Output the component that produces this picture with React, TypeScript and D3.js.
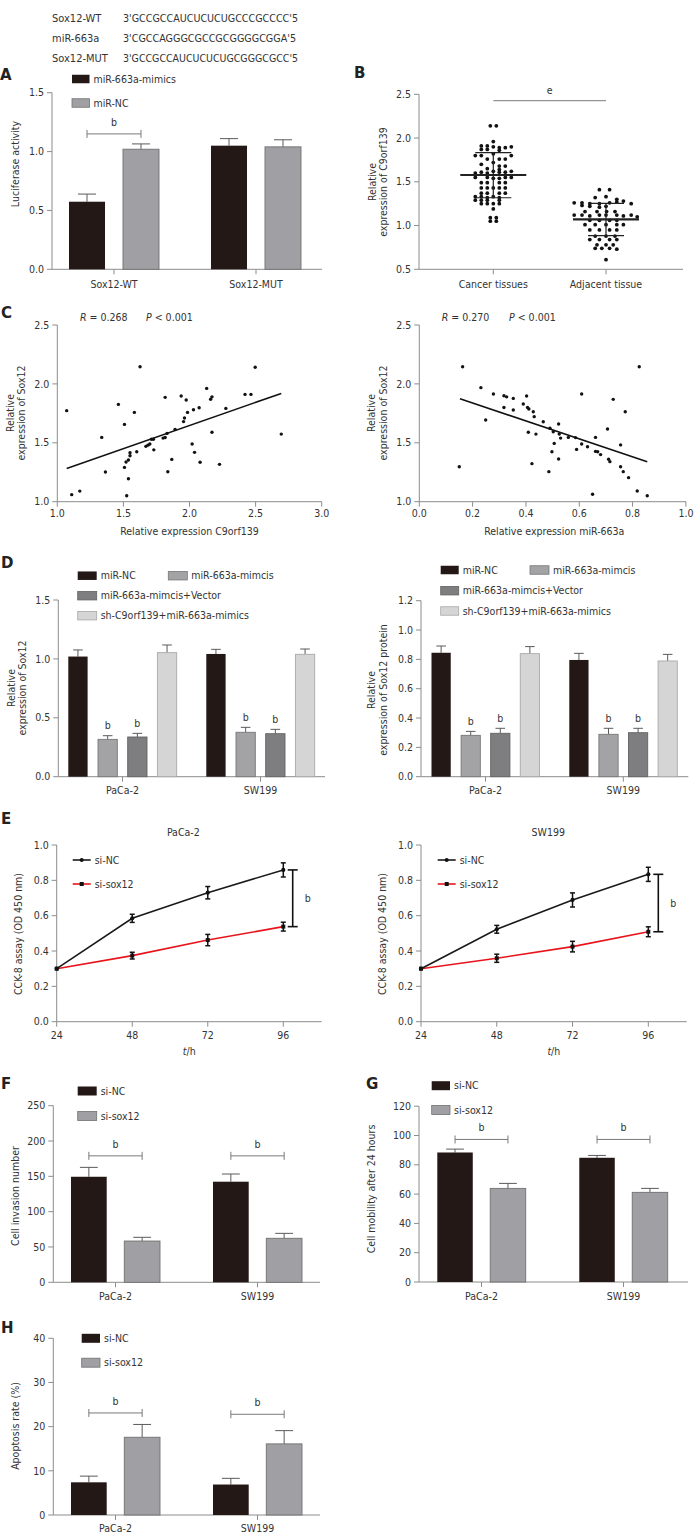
import React from "react";
import * as d3 from "d3";

const FONT = "'DejaVu Sans Condensed', 'DejaVu Sans', sans-serif";
const TXT = "#333333";
const AXC = "#8c8c8c";
const FS = 10.5;
const BLACK = "#231815";
const GRAY = "#a0a0a4";

// ---------- sequences ----------
const seqNames = ["Sox12-WT", "miR-663a", "Sox12-MUT"];
const seqTexts = ["3'GCCGCCAUCUCUCUGCCCGCCCC'5", "3'CGCCAGGGCGCCGCGGGGCGGA'5", "3'GCCGCCAUCUCUCUGCGGGCGCC'5"];

// ---------- A ----------
const aGroups = ["Sox12-WT", "Sox12-MUT"];
const aSeries = ["miR-663a-mimics", "miR-NC"];
const aMeans = [[0.574, 1.02], [1.05, 1.04]];
const aErrs = [[0.065, 0.045], [0.06, 0.06]];
const aTicks = [0, 0.5, 1.0, 1.5];
const aSig = [1.15];

// ---------- B ----------
const bCats = ["Cancer tissues", "Adjacent tissue"];
const bTicks = [0.5, 1.0, 1.5, 2.0, 2.5];
const cancerSlot = [-0.5, 0.5, 0, -2, -1, 0, 1, 2, 3, -2, -1, 1, -3, -2, 3, 0, -1, 1, 2, -2, 0, 1, 2, -1, 1, 0, -3, -2, -1, 1, 2, 3, -3, -1, 0, 1, 2, 3, -2, -1, 1, 2, -2, -1, 0, 1, 2, -2, -1, 1, 2, -3, -2, -1, 0, 1, -3, -2, -1, 1, -2, -1, 0, 1, 0, -0.5, 0.5, -0.5, 0.5];
const cancerVal = [2.14, 2.14, 1.96, 1.91, 1.91, 1.90, 1.89, 1.89, 1.90, 1.87, 1.87, 1.86, 1.80, 1.80, 1.80, 1.82, 1.76, 1.76, 1.76, 1.70, 1.72, 1.68, 1.68, 1.65, 1.64, 1.62, 1.60, 1.61, 1.60, 1.61, 1.61, 1.62, 1.55, 1.55, 1.54, 1.54, 1.55, 1.55, 1.49, 1.49, 1.49, 1.49, 1.43, 1.43, 1.43, 1.43, 1.43, 1.37, 1.37, 1.37, 1.37, 1.33, 1.33, 1.32, 1.33, 1.32, 1.29, 1.29, 1.29, 1.29, 1.25, 1.25, 1.25, 1.25, 1.19, 1.09, 1.09, 1.05, 1.05];
const adjSlot = [-1.1, 0.6, -1.8, 0, 1.8, -5.3, -4, -2.7, -1.1, 0.6, 1.8, 2.9, 4.2, -4, -2.7, -1.1, 0, -3.5, -1.5, 0.1, 1.5, -5.3, -4, -2.7, -1.1, 0, 1.8, 2.9, 4.2, 5.2, -2.7, -1.1, 0.6, 1.8, -3.5, -1.8, 0, 1.8, 2.9, -2.7, -1.1, 0.6, 1.8, -1.8, 0, 1.5, -2.7, -1.1, 0.6, 1.8, -1.5, 0, 1.2, -1.8, -0.7, 0.6, 1.8, 0];
const adjVal = [1.41, 1.41, 1.32, 1.33, 1.30, 1.26, 1.26, 1.25, 1.25, 1.26, 1.27, 1.28, 1.25, 1.23, 1.22, 1.21, 1.22, 1.16, 1.16, 1.16, 1.16, 1.12, 1.12, 1.11, 1.12, 1.12, 1.12, 1.11, 1.12, 1.10, 1.06, 1.06, 1.06, 1.06, 1.01, 1.01, 1.01, 1.01, 1.01, 0.95, 0.95, 0.95, 0.95, 0.88, 0.88, 0.88, 0.84, 0.84, 0.84, 0.84, 0.78, 0.78, 0.78, 0.74, 0.74, 0.74, 0.73, 0.61];
const bMean = [1.578, 1.07];
const bSdHi = [1.833, 1.254];
const bSdLo = [1.318, 0.884];
const bSigLevel = 2.427;

// ---------- C ----------
const cYTicks = [1.0, 1.5, 2.0, 2.5];
const cLXTicks = [1.0, 1.5, 2.0, 2.5, 3.0];
const cRXTicks = [0.0, 0.2, 0.4, 0.6, 0.8, 1.0];
const cLx = [1.071, 1.336, 1.364, 1.462, 1.508, 1.508, 1.52, 1.538, 1.55, 1.55, 1.538, 1.583, 1.601, 1.626, 1.67, 1.685, 1.70, 1.712, 1.727, 1.73, 1.80, 1.816, 1.83, 1.816, 1.836, 1.866, 1.891, 1.937, 1.955, 1.962, 1.975, 1.985, 2.02, 2.03, 2.038, 2.073, 2.08, 2.13, 2.16, 2.17, 2.17, 2.227, 2.275, 2.42, 2.465, 2.497, 2.694, 1.109, 1.17, 1.525];
const cLy = [1.773, 1.546, 1.252, 1.826, 1.656, 1.291, 1.337, 1.354, 1.39, 1.416, 1.195, 1.758, 1.424, 2.146, 1.47, 1.48, 1.49, 1.53, 1.53, 1.44, 1.54, 1.545, 1.58, 1.886, 1.254, 1.359, 1.614, 1.897, 1.68, 1.71, 1.863, 1.758, 1.49, 1.78, 1.419, 1.798, 1.335, 1.962, 1.87, 1.89, 1.589, 1.317, 1.792, 1.911, 1.911, 2.141, 1.574, 1.06, 1.09, 1.05];
const cLfit = { slope: 0.392, intercept: 0.863, from: 1.071, to: 2.694 };
const cRx = [0.15, 0.1625, 0.231, 0.249, 0.278, 0.3175, 0.3275, 0.3175, 0.3525, 0.3525, 0.39, 0.4025, 0.406, 0.411, 0.409, 0.4225, 0.4275, 0.431, 0.4375, 0.465, 0.486, 0.49, 0.4975, 0.5025, 0.506, 0.5225, 0.5225, 0.525, 0.53, 0.559, 0.586, 0.59, 0.609, 0.609, 0.631, 0.661, 0.661, 0.669, 0.68, 0.706, 0.71, 0.715, 0.7275, 0.755, 0.755, 0.765, 0.7725, 0.785, 0.825, 0.65, 0.8175, 0.855];
const cRy = [1.297, 2.146, 1.968, 1.693, 1.914, 1.90, 1.89, 1.80, 1.877, 1.778, 1.829, 1.897, 1.80, 1.787, 1.589, 1.323, 1.764, 1.722, 1.574, 1.679, 1.255, 1.623, 1.424, 1.594, 1.495, 1.659, 1.362, 1.574, 1.54, 1.546, 1.544, 1.444, 1.914, 1.49, 1.467, 1.546, 1.427, 1.424, 1.40, 1.617, 1.36, 1.34, 1.869, 1.482, 1.297, 1.255, 1.764, 1.204, 2.146, 1.063, 1.091, 1.05];
const cRfit = { slope: -0.762, intercept: 1.99, from: 0.1525, to: 0.855 };

// ---------- D ----------
const dGroups = ["PaCa-2", "SW199"];
const dSeries = ["miR-NC", "miR-663a-mimcis", "miR-663a-mimcis+Vector", "sh-C9orf139+miR-663a-mimics"];
const dColors = [BLACK, "#a3a3a6", "#7e7e81", "#d5d5d5"];
const dStrokes = ["none", "#777777", "#626264", "#a9a9a9"];
const dLMeans = [[1.02, 0.317, 0.337, 1.053], [1.042, 0.377, 0.365, 1.039]];
const dLErrs = [[0.056, 0.031, 0.031, 0.065], [0.039, 0.042, 0.037, 0.045]];
const dRMeans = [[0.845, 0.282, 0.296, 0.839], [0.796, 0.289, 0.30, 0.789]];
const dRErrs = [[0.046, 0.027, 0.034, 0.048], [0.045, 0.041, 0.03, 0.045]];
const dLTicks = [0, 0.5, 1.0, 1.5];
const dRTicks = [0, 0.2, 0.4, 0.6, 0.8, 1.0, 1.2];

// ---------- E ----------
const eTimes = [24, 48, 72, 96];
const eYTicks = [0, 0.2, 0.4, 0.6, 0.8, 1.0];
const ePacaNC = [0.30, 0.585, 0.73, 0.859];
const ePacaNCerr = [0, 0.023, 0.035, 0.04];
const ePacaSi = [0.30, 0.374, 0.462, 0.538];
const ePacaSiErr = [0, 0.019, 0.032, 0.025];
const eSwNC = [0.30, 0.523, 0.689, 0.834];
const eSwNCerr = [0, 0.022, 0.04, 0.04];
const eSwSi = [0.30, 0.359, 0.425, 0.509];
const eSwSiErr = [0, 0.023, 0.03, 0.028];

// ---------- F G H ----------
const siSeries = ["si-NC", "si-sox12"];
const fMeans = [[149.4, 58.4], [142.4, 62.3]];
const fErrs = [[13.3, 5.3], [10.9, 7.0]];
const fTicks = [0, 50, 100, 150, 200, 250];
const fSig = [179, 179];
const gMeans = [[88.4, 63.9], [84.8, 61.2]];
const gErrs = [[2.3, 3.4], [1.6, 2.7]];
const gTicks = [0, 20, 40, 60, 80, 100, 120];
const gSig = [97.3, 97.3];
const hMeans = [[7.4, 17.6], [6.9, 16.1]];
const hErrs = [[1.4, 2.9], [1.4, 3.0]];
const hTicks = [0, 10, 20, 30, 40];
const hSig = [23.1, 22.8];

const f1 = d3.format(".1f");
const f0 = d3.format("d");

type Lin = d3.ScaleLinear<number, number>;

function YAxis({ x, y, ticks, fmt }: { x: number; y: Lin; ticks: number[]; fmt: (v: number) => string }) {
  return (
    <g>
      <line x1={x} x2={x} y1={y(ticks[0])} y2={y(ticks[ticks.length - 1])} stroke={AXC} strokeWidth={1} />
      {ticks.map((t) => (
        <g key={t}>
          <line x1={x - 5} x2={x} y1={y(t)} y2={y(t)} stroke={AXC} />
          <text x={x - 8} y={y(t)} dy="0.35em" textAnchor="end" fontSize={FS} fill={TXT}>
            {fmt(t)}
          </text>
        </g>
      ))}
    </g>
  );
}

function XAxisLin({ y0, x, ticks, fmt, x0, x1, labelY }: { y0: number; x: Lin; ticks: number[]; fmt: (v: number) => string; x0: number; x1: number; labelY: number }) {
  return (
    <g>
      <line x1={x0} x2={x1} y1={y0} y2={y0} stroke={AXC} />
      {ticks.map((t) => (
        <g key={t}>
          <line x1={x(t)} x2={x(t)} y1={y0} y2={y0 + 5} stroke={AXC} />
          <text x={x(t)} y={labelY} dy="0.35em" textAnchor="middle" fontSize={FS} fill={TXT}>
            {fmt(t)}
          </text>
        </g>
      ))}
    </g>
  );
}

function XAxisCat({ y0, cats, xg, x0, x1, labelY }: { y0: number; cats: string[]; xg: d3.ScalePoint<string>; x0: number; x1: number; labelY: number }) {
  return (
    <g>
      <line x1={x0} x2={x1} y1={y0} y2={y0} stroke={AXC} />
      {cats.map((c) => (
        <g key={c}>
          <line x1={xg(c)!} x2={xg(c)!} y1={y0} y2={y0 + 5} stroke={AXC} />
          <text x={xg(c)!} y={labelY} dy="0.35em" textAnchor="middle" fontSize={FS} fill={TXT}>
            {c}
          </text>
        </g>
      ))}
    </g>
  );
}

function YLabel({ x, y, lines, gap = 11.5, fs = FS }: { x: number; y: number; lines: string[]; gap?: number; fs?: number }) {
  return (
    <g>
      {lines.map((l, i) => (
        <text key={i} transform={`translate(${x + i * gap},${y}) rotate(-90)`} dy="0.35em" textAnchor="middle" fontSize={fs} fill={TXT}>
          {l}
        </text>
      ))}
    </g>
  );
}

function Letter({ x, y, t }: { x: number; y: number; t: string }) {
  return (
    <text x={x} y={y} fontSize={15} fontWeight="bold" fontFamily="'DejaVu Sans', sans-serif" fill="#222">
      {t}
    </text>
  );
}

function LegendBox({ x, y, w = 19, h = 8.5, fill, stroke, label }: { x: number; y: number; w?: number; h?: number; fill: string; stroke: string; label: string }) {
  return (
    <g>
      <rect x={x} y={y - h / 2} width={w} height={h} fill={fill} stroke={stroke} strokeWidth={stroke === "none" ? 0 : 0.8} />
      <text x={x + w + 4} y={y} dy="0.35em" fontSize={FS} fill={TXT}>
        {label}
      </text>
    </g>
  );
}

function Bracket({ x1, x2, y, label }: { x1: number; x2: number; y: number; label: string }) {
  return (
    <g stroke="#7a7a7a" strokeWidth={1}>
      <line x1={x1} x2={x2} y1={y} y2={y} />
      <line x1={x1} x2={x1} y1={y - 4} y2={y + 4} />
      <line x1={x2} x2={x2} y1={y - 4} y2={y + 4} />
      <text x={(x1 + x2) / 2} y={y - 12} dy="0.35em" textAnchor="middle" fontSize={FS} fill={TXT} stroke="none">
        {label}
      </text>
    </g>
  );
}

type BarProps = {
  groups: string[];
  series: string[];
  colors: string[];
  strokes: string[];
  means: number[][];
  errs: number[][];
  centers: [number, number];
  innerW: number;
  pad: number;
  y: Lin;
  sig?: number[];
  bMarks?: number[];
};

function Bars({ groups, series, colors, strokes, means, errs, centers, innerW, pad, y, sig, bMarks }: BarProps) {
  const xg = d3.scalePoint<string>().domain(groups).range(centers);
  const xs = d3.scaleBand<string>().domain(series).range([-innerW / 2, innerW / 2]).paddingInner(pad);
  const bw = xs.bandwidth();
  const y0 = y(0);
  return (
    <g>
      {groups.map((g, gi) =>
        series.map((s, si) => {
          const x = xg(g)! + xs(s)!;
          const top = y(means[gi][si]);
          const et = y(means[gi][si] + errs[gi][si]);
          return (
            <g key={g + s}>
              <line x1={x + bw / 2} x2={x + bw / 2} y1={top} y2={et} stroke="#5a5a5a" strokeWidth={1} />
              <line x1={x + bw / 2 - bw * 0.25} x2={x + bw / 2 + bw * 0.25} y1={et} y2={et} stroke="#5a5a5a" strokeWidth={1} />
              <rect x={x} y={top} width={bw} height={y0 - top} fill={colors[si]} stroke={strokes[si]} strokeWidth={strokes[si] === "none" ? 0 : 0.9} />
              {bMarks && bMarks.includes(si) ? (
                <text x={x + bw / 2} y={et - 10} dy="0.35em" textAnchor="middle" fontSize={FS} fill={TXT}>
                  b
                </text>
              ) : null}
            </g>
          );
        })
      )}
      {sig
        ? groups.map((g, gi) =>
            gi < sig.length ? (
              <Bracket key={"s" + g} x1={xg(g)! + xs(series[0])! + bw / 2} x2={xg(g)! + xs(series[1])! + bw / 2} y={y(sig[gi])} label="b" />
            ) : null
          )
        : null}
    </g>
  );
}

function LinePanel({ x, y, nc, ncErr, si, siErr, brX, axisX1, title, titleX, legX }: { x: Lin; y: Lin; nc: number[]; ncErr: number[]; si: number[]; siErr: number[]; brX: number; axisX1: number; title: string; titleX: number; legX: number }) {
  const line = d3
    .line<number>()
    .x((_, i) => x(eTimes[i]))
    .y((d) => y(d));
  const x0 = x(24);
  const last = eTimes.length - 1;
  return (
    <g>
      <text x={titleX} y={832.7} dy="0.35em" textAnchor="middle" fontSize={FS} fill={TXT}>
        {title}
      </text>
      <YAxis x={x0} y={y} ticks={eYTicks} fmt={f1} />
      <XAxisLin y0={y(0)} x={x} ticks={eTimes} fmt={f0} x0={x0} x1={axisX1} labelY={1035} />
      <text x={(x0 + axisX1) / 2} y={1051.7} dy="0.35em" textAnchor="middle" fontSize={FS} fill={TXT}>
        <tspan fontStyle="italic">t</tspan>/h
      </text>
      <path d={line(si) || ""} fill="none" stroke="#e8131b" strokeWidth={1.6} />
      <path d={line(nc) || ""} fill="none" stroke="#1a1a1a" strokeWidth={1.6} />
      {[
        { v: si, e: siErr, c: "#1a1a1a", sq: true },
        { v: nc, e: ncErr, c: "#1a1a1a", sq: false },
      ].map((s, k) =>
        s.v.map((v, i) => (
          <g key={k + "-" + i}>
            {s.e[i] > 0 ? (
              <g stroke="#111" strokeWidth={1.5}>
                <line x1={x(eTimes[i])} x2={x(eTimes[i])} y1={y(v - s.e[i])} y2={y(v + s.e[i])} />
                <line x1={x(eTimes[i]) - 2.5} x2={x(eTimes[i]) + 2.5} y1={y(v - s.e[i])} y2={y(v - s.e[i])} />
                <line x1={x(eTimes[i]) - 2.5} x2={x(eTimes[i]) + 2.5} y1={y(v + s.e[i])} y2={y(v + s.e[i])} />
              </g>
            ) : null}
            {s.sq ? <rect x={x(eTimes[i]) - 2} y={y(v) - 2} width={4} height={4} fill="#111" /> : <circle cx={x(eTimes[i])} cy={y(v)} r={2.1} fill="#111" />}
          </g>
        ))
      )}
      <g stroke="#111" strokeWidth={1.6}>
        <line x1={x(96) + brX} x2={x(96) + brX} y1={y(nc[last])} y2={y(si[last])} />
        <line x1={x(96) + brX - 5} x2={x(96) + brX + 5} y1={y(nc[last])} y2={y(nc[last])} />
        <line x1={x(96) + brX - 5} x2={x(96) + brX + 5} y1={y(si[last])} y2={y(si[last])} />
      </g>
      <text x={x(96) + brX + 12} y={(y(nc[last]) + y(si[last])) / 2} dy="0.35em" fontSize={FS} fill={TXT}>
        b
      </text>
      {/* legend */}
      <line x1={legX} x2={legX + 18} y1={860} y2={860} stroke="#1a1a1a" strokeWidth={1.6} />
      <circle cx={legX + 9} cy={860} r={2} fill="#111" />
      <text x={legX + 22} y={860} dy="0.35em" fontSize={FS} fill={TXT}>
        si-NC
      </text>
      <line x1={legX} x2={legX + 18} y1={884} y2={884} stroke="#e8131b" strokeWidth={1.6} />
      <rect x={legX + 7} y={882} width={4} height={4} fill="#111" />
      <text x={legX + 22} y={884} dy="0.35em" fontSize={FS} fill={TXT}>
        si-sox12
      </text>
    </g>
  );
}

export default function App() {
  // A
  const yA = d3.scaleLinear().domain([0, 1.5]).range([269.3, 92.7]);
  const xgA = d3.scalePoint<string>().domain(aGroups).range([114, 256]);
  // B
  const yB = d3.scaleLinear().domain([0.5, 2.5]).range([269.3, 94.3]);
  const xB = d3.scalePoint<string>().domain(bCats).range([493.3, 606]);
  const jit = d3.scaleLinear().domain([0, 1]).range([0, 6]);
  // C
  const yC = d3.scaleLinear().domain([1, 2.5]).range([501.7, 325]);
  const xCL = d3.scaleLinear().domain([1, 3]).range([57.3, 321.7]);
  const xCR = d3.scaleLinear().domain([0, 1]).range([419.3, 685.9]);
  // D
  const yDL = d3.scaleLinear().domain([0, 1.5]).range([776.7, 600]);
  const yDR = d3.scaleLinear().domain([0, 1.2]).range([776.7, 600.7]);
  const xgDL = d3.scalePoint<string>().domain(dGroups).range([122.5, 260.5]);
  const xgDR = d3.scalePoint<string>().domain(dGroups).range([485.5, 623.3]);
  // E
  const yE = d3.scaleLinear().domain([0, 1]).range([1021.7, 845]);
  const xEL = d3.scaleLinear().domain([24, 96]).range([56.7, 283.3]);
  const xER = d3.scaleLinear().domain([24, 96]).range([421, 648.3]);
  // F G H
  const yF = d3.scaleLinear().domain([0, 250]).range([1282.3, 1105.7]);
  const yG = d3.scaleLinear().domain([0, 120]).range([1282, 1106.2]);
  const yH = d3.scaleLinear().domain([0, 40]).range([1515, 1338.3]);
  const xgF = d3.scalePoint<string>().domain(dGroups).range([115.5, 257.5]);
  const xgG = d3.scalePoint<string>().domain(dGroups).range([481.5, 623.5]);

  const fitL = [cLfit.from, cLfit.to];
  const fitR = [cRfit.from, cRfit.to];

  return (
    <svg width={698} height={1537} style={{ position: "absolute", left: 0, top: 0, background: "#fff" }} fontFamily={FONT}>
      <rect width={698} height={1537} fill="#fff" />

      {/* sequences */}
      {seqNames.map((n, i) => (
        <g key={n}>
          <text x={52} y={21.5 + i * 20.3} fontSize={11} fill={TXT}>
            {n}
          </text>
          <text x={123} y={21.5 + i * 20.3} fontSize={11} fill={TXT} textLength={i === 1 ? 173 : 175} lengthAdjust="spacingAndGlyphs">
            {seqTexts[i]}
          </text>
        </g>
      ))}

      {/* ---------- A ---------- */}
      <Letter x={0} y={80} t="A" />
      <YAxis x={52} y={yA} ticks={aTicks} fmt={f1} />
      <XAxisCat y0={269.3} cats={aGroups} xg={xgA} x0={52} x1={322} labelY={284} />
      <YLabel x={15} y={164} lines={["Luciferase activity"]} />
      <Bars groups={aGroups} series={aSeries} colors={[BLACK, GRAY]} strokes={["none", "#707070"]} means={aMeans} errs={aErrs} centers={[114, 256]} innerW={90} pad={0.333} y={yA} sig={aSig} />
      <LegendBox x={72} y={79} w={17.5} fill={BLACK} stroke="none" label={aSeries[0]} />
      <LegendBox x={72} y={103} w={17.5} fill={GRAY} stroke="#707070" label={aSeries[1]} />

      {/* ---------- B ---------- */}
      <Letter x={354} y={78} t="B" />
      <YAxis x={419} y={yB} ticks={bTicks} fmt={f1} />
      <XAxisCat y0={269.3} cats={bCats} xg={xB} x0={419} x1={683} labelY={284} />
      <YLabel x={372} y={182} lines={["Relative", "expression of C9orf139"]} />
      <line x1={xB(bCats[0])!} x2={xB(bCats[1])!} y1={yB(bSigLevel)} y2={yB(bSigLevel)} stroke="#7a7a7a" />
      <text x={(xB(bCats[0])! + xB(bCats[1])!) / 2} y={yB(bSigLevel) - 10} dy="0.35em" textAnchor="middle" fontSize={FS} fill={TXT}>
        e
      </text>
      {cancerVal.map((v, i) => (
        <circle key={"c" + i} cx={xB(bCats[0])! + jit(cancerSlot[i])} cy={yB(v)} r={1.9} fill="#111" />
      ))}
      {adjVal.map((v, i) => (
        <circle key={"a" + i} cx={xB(bCats[1])! + jit(adjSlot[i])} cy={yB(v)} r={1.9} fill="#111" />
      ))}
      {bCats.map((c, i) => {
        const cx = xB(c)!;
        return (
          <g key={c} stroke="#222">
            <line x1={cx - 33} x2={cx + 33} y1={yB(bMean[i])} y2={yB(bMean[i])} strokeWidth={2.2} />
            <line x1={cx - 18} x2={cx + 18} y1={yB(bSdHi[i])} y2={yB(bSdHi[i])} strokeWidth={1.2} />
            <line x1={cx - 18} x2={cx + 18} y1={yB(bSdLo[i])} y2={yB(bSdLo[i])} strokeWidth={1.2} />
            <line x1={cx} x2={cx} y1={yB(bSdHi[i])} y2={yB(bSdLo[i])} strokeWidth={1.2} />
          </g>
        );
      })}

      {/* ---------- C ---------- */}
      <Letter x={1} y={318} t="C" />
      <text x={80} y={317} dy="0.35em" fontSize={FS} fill={TXT}>
        <tspan fontStyle="italic">R</tspan> = 0.268
      </text>
      <text x={146} y={317} dy="0.35em" fontSize={FS} fill={TXT}>
        <tspan fontStyle="italic">P</tspan> &lt; 0.001
      </text>
      <YAxis x={57.3} y={yC} ticks={cYTicks} fmt={f1} />
      <XAxisLin y0={501.7} x={xCL} ticks={cLXTicks} fmt={f1} x0={57.3} x1={321.7} labelY={513.5} />
      <text x={189.5} y={531.7} dy="0.35em" textAnchor="middle" fontSize={FS} fill={TXT}>
        Relative expression C9orf139
      </text>
      <YLabel x={10} y={413} lines={["Relative", "expression of Sox12"]} />
      {cLx.map((v, i) => (
        <circle key={"cl" + i} cx={xCL(v)} cy={yC(cLy[i])} r={1.7} fill="#111" />
      ))}
      <line x1={xCL(fitL[0])} x2={xCL(fitL[1])} y1={yC(cLfit.intercept + cLfit.slope * fitL[0])} y2={yC(cLfit.intercept + cLfit.slope * fitL[1])} stroke="#111" strokeWidth={1.6} />

      <text x={441.7} y={317} dy="0.35em" fontSize={FS} fill={TXT}>
        <tspan fontStyle="italic">R</tspan> = 0.270
      </text>
      <text x={509} y={317} dy="0.35em" fontSize={FS} fill={TXT}>
        <tspan fontStyle="italic">P</tspan> &lt; 0.001
      </text>
      <YAxis x={419.3} y={yC} ticks={cYTicks} fmt={f1} />
      <XAxisLin y0={501.7} x={xCR} ticks={cRXTicks} fmt={f1} x0={419.3} x1={686} labelY={513.5} />
      <text x={554.3} y={531.7} dy="0.35em" textAnchor="middle" fontSize={FS} fill={TXT}>
        Relative expression miR-663a
      </text>
      <YLabel x={371.7} y={413} lines={["Relative", "expression of Sox12"]} />
      {cRx.map((v, i) => (
        <circle key={"cr" + i} cx={xCR(v)} cy={yC(cRy[i])} r={1.7} fill="#111" />
      ))}
      <line x1={xCR(fitR[0])} x2={xCR(fitR[1])} y1={yC(cRfit.intercept + cRfit.slope * fitR[0])} y2={yC(cRfit.intercept + cRfit.slope * fitR[1])} stroke="#111" strokeWidth={1.6} />

      {/* ---------- D ---------- */}
      <Letter x={1} y={568} t="D" />
      <LegendBox x={77.7} y={575.7} fill={dColors[0]} stroke={dStrokes[0]} label={dSeries[0]} />
      <LegendBox x={168.3} y={575.7} fill={dColors[1]} stroke={dStrokes[1]} label={dSeries[1]} />
      <LegendBox x={77.7} y={595.7} fill={dColors[2]} stroke={dStrokes[2]} label={dSeries[2]} />
      <LegendBox x={77.7} y={615.7} fill={dColors[3]} stroke={dStrokes[3]} label={dSeries[3]} />
      <YAxis x={58.3} y={yDL} ticks={dLTicks} fmt={f1} />
      <XAxisCat y0={776.7} cats={dGroups} xg={xgDL} x0={58.3} x1={325} labelY={790} />
      <YLabel x={11} y={688} lines={["Relative", "expression of Sox12"]} />
      <Bars groups={dGroups} series={dSeries} colors={dColors} strokes={dStrokes} means={dLMeans} errs={dLErrs} centers={[122.5, 260.5]} innerW={108.4} pad={0.35} y={yDL} bMarks={[1, 2]} />

      <LegendBox x={440.7} y={570} w={18} fill={dColors[0]} stroke={dStrokes[0]} label={dSeries[0]} />
      <LegendBox x={530} y={570} w={19} fill={dColors[1]} stroke={dStrokes[1]} label={dSeries[1]} />
      <LegendBox x={440.7} y={590.7} w={18} fill={dColors[2]} stroke={dStrokes[2]} label={dSeries[2]} />
      <LegendBox x={440.7} y={611} w={18} fill={dColors[3]} stroke={dStrokes[3]} label={dSeries[3]} />
      <YAxis x={421} y={yDR} ticks={dRTicks} fmt={f1} />
      <XAxisCat y0={776.7} cats={dGroups} xg={xgDR} x0={421} x1={688.3} labelY={790} />
      <YLabel x={371.7} y={690} lines={["Relative", "expression of Sox12 protein"]} />
      <Bars groups={dGroups} series={dSeries} colors={dColors} strokes={dStrokes} means={dRMeans} errs={dRErrs} centers={[485.5, 623.3]} innerW={108} pad={0.35} y={yDR} bMarks={[1, 2]} />

      {/* ---------- E ---------- */}
      <Letter x={1} y={824} t="E" />
      <YLabel x={18} y={934} lines={["CCK-8 assay (OD 450 nm)"]} />
      <LinePanel x={xEL} y={yE} nc={ePacaNC} ncErr={ePacaNCerr} si={ePacaSi} siErr={ePacaSiErr} brX={9.4} axisX1={321.7} title="PaCa-2" titleX={183.3} legX={72.7} />
      <YLabel x={382.3} y={934} lines={["CCK-8 assay (OD 450 nm)"]} />
      <LinePanel x={xER} y={yE} nc={eSwNC} ncErr={eSwNCerr} si={eSwSi} siErr={eSwSiErr} brX={10} axisX1={686.7} title="SW199" titleX={548.3} legX={437.7} />

      {/* ---------- F ---------- */}
      <Letter x={1} y={1089} t="F" />
      <LegendBox x={77.7} y={1091} fill={BLACK} stroke="none" h={9} label={siSeries[0]} />
      <LegendBox x={77.7} y={1116} fill={GRAY} stroke="#707070" h={9} label={siSeries[1]} />
      <YAxis x={53.3} y={yF} ticks={fTicks} fmt={f0} />
      <XAxisCat y0={1282.3} cats={dGroups} xg={xgF} x0={53.3} x1={320} labelY={1296} />
      <YLabel x={15} y={1196} lines={["Cell invasion number"]} />
      <Bars groups={dGroups} series={siSeries} colors={[BLACK, GRAY]} strokes={["none", "#707070"]} means={fMeans} errs={fErrs} centers={[115.5, 257.5]} innerW={89} pad={0.33} y={yF} sig={fSig} />

      {/* ---------- G ---------- */}
      <Letter x={366} y={1089} t="G" />
      <LegendBox x={431.7} y={1085.7} w={18.3} fill={BLACK} stroke="none" h={9} label={siSeries[0]} />
      <LegendBox x={431.7} y={1110} w={18.3} fill={GRAY} stroke="#707070" h={9} label={siSeries[1]} />
      <YAxis x={419} y={yG} ticks={gTicks} fmt={f0} />
      <XAxisCat y0={1282} cats={dGroups} xg={xgG} x0={419} x1={688} labelY={1296} />
      <YLabel x={371.7} y={1189} lines={["Cell mobility after 24 hours"]} />
      <Bars groups={dGroups} series={siSeries} colors={[BLACK, GRAY]} strokes={["none", "#707070"]} means={gMeans} errs={gErrs} centers={[481.5, 623.5]} innerW={88.4} pad={0.33} y={yG} sig={gSig} />

      {/* ---------- H ---------- */}
      <Letter x={1} y={1333} t="H" />
      <LegendBox x={81.7} y={1338.3} w={18.3} fill={BLACK} stroke="none" h={9} label={siSeries[0]} />
      <LegendBox x={81.7} y={1362.7} w={18.3} fill={GRAY} stroke="#707070" h={9} label={siSeries[1]} />
      <YAxis x={53.3} y={yH} ticks={hTicks} fmt={f0} />
      <XAxisCat y0={1515} cats={dGroups} xg={xgF} x0={53.3} x1={320} labelY={1528.3} />
      <YLabel x={15} y={1426} lines={["Apoptosis rate (%)"]} />
      <Bars groups={dGroups} series={siSeries} colors={[BLACK, GRAY]} strokes={["none", "#707070"]} means={hMeans} errs={hErrs} centers={[115.5, 257.5]} innerW={89} pad={0.33} y={yH} sig={hSig} />
    </svg>
  );
}
